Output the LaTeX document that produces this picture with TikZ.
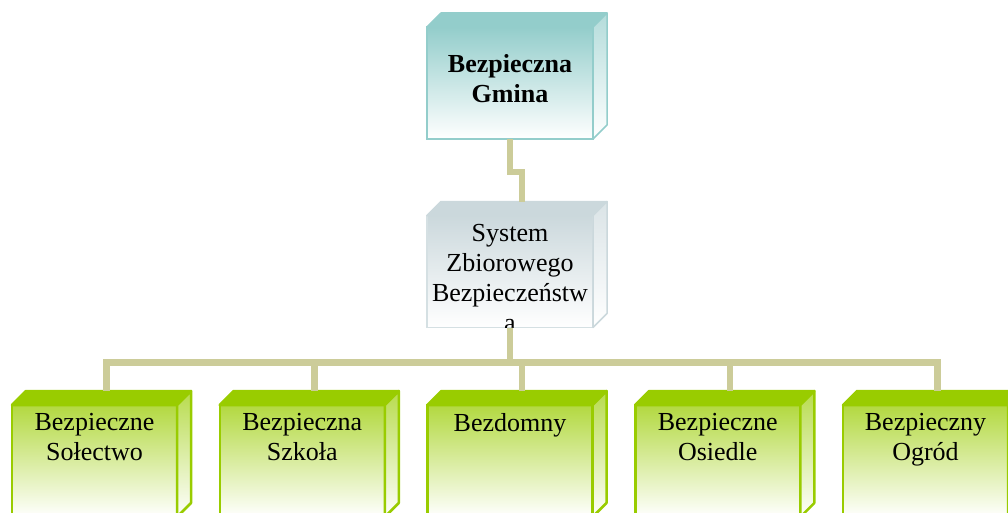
\documentclass[tikz,border=0pt]{standalone}
\usepackage{fontspec}
\setmainfont{Liberation Serif}

\definecolor{linkcol}{RGB}{204,204,153}
\definecolor{tealcol}{RGB}{147,205,203}
\definecolor{greycol}{RGB}{203,216,220}
\definecolor{greencol}{RGB}{153,204,0}

\tikzset{
  box/.style={rectangle, minimum width=166pt, minimum height=112pt, inner sep=0pt, outer sep=0pt},
  tealbox/.style={box, draw=tealcol, line width=1.5pt, top color=tealcol, middle color=tealcol!45!white, bottom color=white},
  greybox/.style={box, draw=greycol!80!white, line width=1.5pt, top color=greycol, middle color=greycol!45!white, bottom color=white},
  greenbox/.style={box, minimum width=165pt, draw=greencol, line width=2.5pt, top color=greencol!75!white, middle color=greencol!20!white, bottom color=white},
  boxtext/.style={anchor=north, align=center, inner sep=0pt, font=\fontsize{26}{30}\selectfont},
  boldtext/.style={boxtext, font=\fontsize{26}{30}\selectfont\bfseries},
  link/.style={draw=linkcol, line width=6.5pt}
}

\begin{document}
\begin{tikzpicture}[x=1pt, y=-1pt]
        \path[use as bounding box, clip] (0,0) rectangle (1008,513);

        % boxes
        \node(gmina) [tealbox] at (510,83) {};
        \node(sys) [greybox] at (510,271.5) {};
        \node(solectwo) [greenbox] at (94.5,461) {};
        \node(szkola) [greenbox] at (302.25,461) {};
        \node(bezdomny) [greenbox] at (510,461) {};
        \node(osiedle) [greenbox] at (717.75,461) {};
        \node(ogrod) [greenbox] at (925.5,461) {};

        % top and side faces
        \foreach \n/\c/\w in {gmina/tealcol/1.5, sys/greycol/1.5, solectwo/greencol/2.5, szkola/greencol/2.5,
                              bezdomny/greencol/2.5, osiedle/greencol/2.5, ogrod/greencol/2.5} {
          \filldraw[draw=\c, fill=\c, line width=\w pt, line join=round]
            (\n.north west) -- ++(14,-14) -- ([shift={(14,-14)}]\n.north east) -- (\n.north east) -- cycle;
          \shadedraw[draw=\c, top color=\c!70!white, bottom color=white, line width=\w pt, line join=round]
            (\n.north east) -- ++(14,-14) -- ([shift={(14,-14)}]\n.south east) -- (\n.south east) -- cycle;
          \coordinate (\n-top) at ([xshift=12pt, yshift=14pt]\n.north);
        }

        % texts
        \node(gmina-txt) [boldtext] at (510,54) {Bezpieczna\\Gmina};
        \begin{scope}
          \clip (sys.south west) rectangle (sys.north east);
          \node(sys-txt) [boxtext] at (510,224.5) {System\\Zbiorowego\\Bezpieczeństw\\a};
        \end{scope}
        \node(solectwo-txt) [boxtext] at (94.5,413) {Bezpieczne\\Sołectwo};
        \node(szkola-txt) [boxtext] at (302.25,413) {Bezpieczna\\Szkoła};
        \node(bezdomny-txt) [boxtext] at (510,413) {Bezdomny};
        \node(osiedle-txt) [boxtext] at (717.75,413) {Bezpieczne\\Osiedle};
        \node(ogrod-txt) [boxtext] at (925.5,413) {Bezpieczny\\Ogród};

        % edges
        \draw[link] (gmina.south) -- ++(0,33) -| (sys-top);
        \foreach \b in {solectwo, szkola, bezdomny, osiedle, ogrod}
          \draw[link] (sys.south) -- ++(0,35) -| (\b-top);

    \end{tikzpicture}
\end{document}
